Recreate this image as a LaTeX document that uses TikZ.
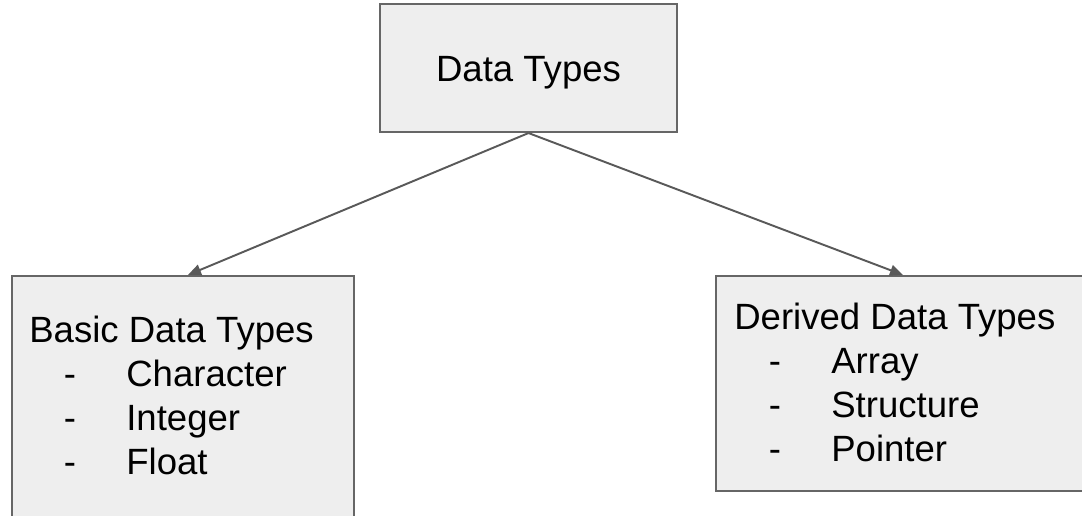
\documentclass[tikz,border=0pt]{standalone}
\usepackage{fontspec}
\setmainfont{Liberation Sans}
\usetikzlibrary{arrows.meta}
\definecolor{dtfill}{HTML}{EEEEEE}
\definecolor{dtedge}{HTML}{666666}
\definecolor{dtline}{HTML}{595959}
\newcommand{\dtitem}[1]{\hspace*{0.69cm}\makebox[1.25cm][l]{-}#1}

\begin{document}
\begin{tikzpicture}[
            box/.style={rectangle, draw=dtedge, fill=dtfill, line width=1.2pt, inner sep=0pt},
            arrow/.style={-{Triangle[length=0.26cm, width=0.22cm]}, line width=1.1pt, dtline},
            items/.style={anchor=base west, inner sep=0pt, font=\fontsize{20.8}{25}\selectfont}
        ]
            \useasboundingbox (0,0) rectangle (21.64,10.30);
            \clip (0,0) rectangle (21.64,10.30);

            % Boxes
            \node[box, minimum width=5.94cm, minimum height=2.56cm, text height=15pt, text depth=0pt,
                  font=\fontsize{20.8}{25}\selectfont] (top) at (10.57,8.94) {Data Types};
            \node[box, minimum width=6.84cm, minimum height=5.28cm] (basic) at (3.66,2.14) {};
            \node[box, minimum width=7.48cm, minimum height=4.30cm] (derived) at (18.06,2.63) {};

            % Lists
            \node[items] (basiclist) at (0.58,3.44) {\begin{tabular}[t]{@{}l@{}}
                Basic Data Types\\ \dtitem{Character}\\ \dtitem{Integer}\\ \dtitem{Float}
            \end{tabular}};
            \node[items] (derivedlist) at (14.68,3.70) {\begin{tabular}[t]{@{}l@{}}
                Derived Data Types\\ \dtitem{Array}\\ \dtitem{Structure}\\ \dtitem{Pointer}
            \end{tabular}};

            % Arrows
            \draw[arrow] (top.south) -- ([xshift=0.1cm]basic.north);
            \draw[arrow] (top.south) -- (derived.north);
        \end{tikzpicture}
\end{document}
